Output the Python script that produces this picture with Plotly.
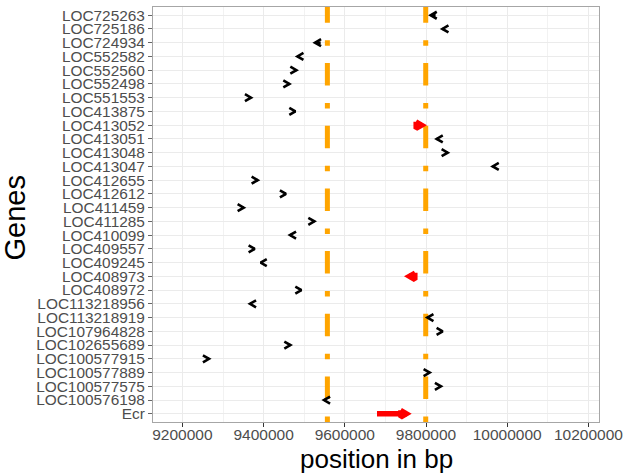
import math
import plotly.graph_objects as go

# ---------------- data ----------------
genes = ["LOC725263", "LOC725186", "LOC724934", "LOC552582", "LOC552560",
         "LOC552498", "LOC551553", "LOC413875", "LOC413052", "LOC413051",
         "LOC413048", "LOC413047", "LOC412655", "LOC412612", "LOC411459",
         "LOC411285", "LOC410099", "LOC409557", "LOC409245", "LOC408973",
         "LOC408972", "LOC113218956", "LOC113218919", "LOC107964828",
         "LOC102655689", "LOC100577915", "LOC100577889", "LOC100577575",
         "LOC100576198", "Ecr"]
gene_start = [9811600, 9840400, 9526600, 9483250, 9477800,
              9459500, 9366000, 9474800, 9786150, 9826350,
              9850450, 9964300, 9382000, 9451700, 9348000,
              9521600, 9465000, 9375100, 9392850, 9758100,
              9489600, 9366500, 9803400, 9838100,
              9462500, 9262000, 9806100, 9833400,
              9548800, 9679300]
gene_end = [9823600, 9843400, 9540600, 9487250, 9480800,
            9463500, 9369000, 9478300, 9790150, 9829350,
            9853450, 9967300, 9385460, 9455170, 9351000,
            9525100, 9468500, 9378100, 9396350, 9762100,
            9493100, 9370000, 9806900, 9841100,
            9466000, 9265500, 9809100, 9836900,
            9552300, 9752500]
strand = ["-", "-", "-", "-", "+", "+", "+", "+", "+", "-",
          "+", "-", "+", "+", "+", "+", "-", "+", "-", "-",
          "+", "-", "-", "+", "+", "+", "+", "+", "-", "+"]
highlight = ["LOC413052", "LOC408973", "Ecr"]
window_lines = [9557100, 9799300]
x_ticks = [9200000, 9400000, 9600000, 9800000, 10000000, 10200000]

# ---------------- layout geometry ----------------
W, H = 626, 474
M = dict(l=153, r=27, t=7, b=52)
x_range = [9127600, 10226100]
n = len(genes)
y_range = [-0.6, n - 0.4]
px_per_bp = (W - M["l"] - M["r"]) / (x_range[1] - x_range[0])
px_per_row = (H - M["t"] - M["b"]) / (y_range[1] - y_range[0])

HEAD_LEN = 7.0            # arrow head length in px
HEAD_ANGLE = math.radians(30)
head_dx = HEAD_LEN * math.cos(HEAD_ANGLE) / px_per_bp
head_dy = HEAD_LEN * math.sin(HEAD_ANGLE) / px_per_row

ypos = [n - 1 - i for i in range(n)]

FONT = "Liberation Sans, Arial, Helvetica, sans-serif"

blk_x, blk_y = [], []
red_sx, red_sy = [], []
red_hx, red_hy = [], []
for g, s, e, st, y in zip(genes, gene_start, gene_end, strand, ypos):
    if st == "+":
        tail, tip, d = s, e, 1
    else:
        tail, tip, d = e, s, -1
    back = tip - d * head_dx
    if g in highlight:
        red_sx += [tail, tip, None]
        red_sy += [y, y, None]
        red_hx += [back, tip, back, back, None]
        red_hy += [y + head_dy, y, y - head_dy, y + head_dy, None]
    else:
        blk_x += [tail, tip, None, back, tip, back, None]
        blk_y += [y, y, None, y + head_dy, y, y - head_dy, None]

fig = go.Figure()

# dashed window lines (drawn as traces so they sit above the grid, below genes)
for xv in window_lines:
    fig.add_trace(go.Scatter(x=[xv, xv], y=y_range, mode="lines",
                             line=dict(color="#FFA500", width=5,
                                       dash="5.5px,17.5px,22.5px,17.2px"),
                             hoverinfo="skip", showlegend=False))

fig.add_trace(go.Scatter(x=blk_x, y=blk_y, mode="lines",
                         line=dict(color="black", width=2.6),
                         hoverinfo="skip", showlegend=False))
fig.add_trace(go.Scatter(x=red_sx, y=red_sy, mode="lines",
                         line=dict(color="#FF0000", width=5.5),
                         hoverinfo="skip", showlegend=False))
fig.add_trace(go.Scatter(x=red_hx, y=red_hy, mode="lines", fill="toself",
                         fillcolor="#FF0000",
                         line=dict(color="#FF0000", width=5),
                         hoverinfo="skip", showlegend=False))

fig.update_layout(
    width=W, height=H, margin=M,
    paper_bgcolor="white", plot_bgcolor="white",
    font=dict(family=FONT),
    annotations=[
        dict(text="position in bp", xref="paper", yref="paper", x=0.5, y=0,
             xanchor="center", yanchor="middle", yshift=-37, showarrow=False,
             font=dict(size=26, color="black", family=FONT)),
        dict(text="Genes", xref="paper", yref="paper", x=0, y=0.5,
             xanchor="center", yanchor="middle", xshift=-139, yshift=-4,
             textangle=-90, showarrow=False,
             font=dict(size=29, color="black", family=FONT)),
    ],
)
fig.update_xaxes(
    range=x_range, tickmode="array", tickvals=x_ticks,
    ticktext=[str(v) for v in x_ticks],
    showgrid=True, gridcolor="#ebebeb", gridwidth=1,
    minor=dict(dtick=100000, tick0=9100000, showgrid=True,
               gridcolor="#f2f2f2", gridwidth=0.6),
    zeroline=False, showline=True, linecolor="#a6a6a6", linewidth=1,
    mirror=True, ticks="outside", ticklen=4, tickcolor="#333333",
    tickfont=dict(size=15.5, color="#4d4d4d", family=FONT),
    ticklabelstandoff=-6,
    automargin=False,
)
fig.update_yaxes(
    range=y_range, tickmode="array", tickvals=ypos, ticktext=genes,
    showgrid=True, gridcolor="#ebebeb", gridwidth=1,
    zeroline=False, showline=True, linecolor="#a6a6a6", linewidth=1,
    mirror=True, ticks="outside", ticklen=4, tickcolor="#666666",
    tickfont=dict(size=15.4, color="#4d4d4d", family=FONT),
    automargin=False,
)

fig.write_html("out.html",
               config={"displayModeBar": False},
               post_script="document.body.style.margin='0';"
                           "document.body.style.overflow='hidden';")
